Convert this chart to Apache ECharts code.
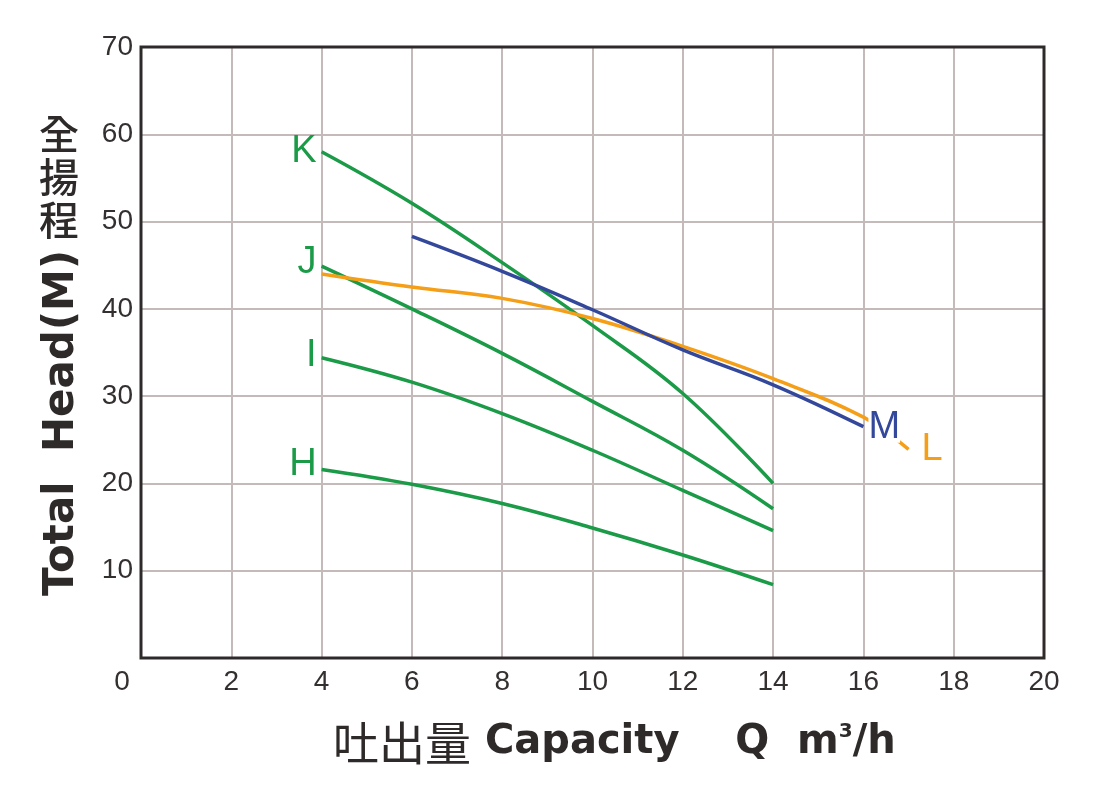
<!DOCTYPE html>
<html>
<head>
<meta charset="utf-8">
<script src="https://cdn.jsdelivr.net/npm/echarts@6/dist/echarts.min.js"></script>
<style>
  html, body { margin: 0; padding: 0; background: #fff; }
  #chart { width: 1110px; height: 789px; }
</style>
</head>
<body>
<div id="chart"></div>
<script>
// flow Q (m3/h) against head (m)
const xTicks = [0, 2, 4, 6, 8, 10, 12, 14, 16, 18, 20]
const yTicks = [0, 10, 20, 30, 40, 50, 60, 70]

const qH = [4, 6, 8, 10, 12, 14]
const headH = [21.6, 19.9, 17.7, 14.9, 11.8, 8.4]
const headI = [34.4, 31.6, 28.0, 23.8, 19.2, 14.6]
const headJ = [44.9, 40.0, 34.9, 29.4, 23.8, 17.1]
const headK = [58.0, 52.1, 45.3, 38.1, 30.3, 20.0]

const qM = [6, 8, 10, 12, 14, 16]
const headM = [48.3, 44.3, 39.9, 35.3, 31.3, 26.5]

const qL = [4, 6, 8, 10, 12, 14, 16, 17]
const headL = [44.0, 42.5, 41.2, 38.9, 35.7, 32.0, 27.6, 23.9]

const GREEN = '#1b9a47'
const BLUE = '#33489b'
const ORANGE = '#f59e17'
const INK = '#2e2a2a'
const NARROW = '"Liberation Sans Narrow", "Arial Narrow", "Liberation Sans", sans-serif'

const curve = (name, xs, ys, color, labelAt, position, offset, z) => ({
  type: 'line',
  name,
  smooth: 0.4,
  symbol: 'circle',
  symbolSize: 0,
  showSymbol: true,
  silent: true,
  lineStyle: { width: 3.5, color },
  itemStyle: { color },
  emphasis: { disabled: true },
  z,
  data: xs.map((x, i) =>
    i === labelAt
      ? {
          value: [x, ys[i]],
          label: {
            show: true,
            position,
            distance: 5,
            offset,
            formatter: name,
            color,
            fontSize: 38,
            fontFamily: NARROW,
            backgroundColor: '#fff',
            padding: [0, 0, 0, 0],
            lineHeight: 30,
          },
        }
      : [x, ys[i]],
  ),
})

const chart = echarts.init(document.getElementById('chart'))

chart.setOption({
  animation: false,
  backgroundColor: '#fff',
  grid: {
    left: 141,
    top: 47,
    width: 903,
    height: 611,
    show: true,
    borderColor: INK,
    borderWidth: 3,
    z: 4,
  },
  xAxis: {
    type: 'value',
    min: 0,
    max: 20,
    interval: 2,
    axisLine: { show: false },
    axisTick: { show: false },
    splitLine: { show: true, lineStyle: { color: '#c4baba', width: 2 } },
    axisLabel: {
      margin: 10,
      fontSize: 28,
      color: '#353030',
      fontFamily: 'Liberation Sans, Arial, sans-serif',
      formatter: (v) => (v === 0 ? '{z|0}' : String(v)),
      rich: { z: { fontSize: 28, color: '#353030', padding: [0, 38, 0, 0] } },
    },
  },
  yAxis: {
    type: 'value',
    min: 0,
    max: 70,
    interval: 10,
    axisLine: { show: false },
    axisTick: { show: false },
    splitLine: { show: true, lineStyle: { color: '#c4baba', width: 2 } },
    axisLabel: {
      margin: 8,
      fontSize: 28,
      color: '#353030',
      fontFamily: 'Liberation Sans, Arial, sans-serif',
      formatter: (v) => (v === 0 ? '' : String(v)),
    },
  },
  graphic: [
    {
      type: 'text',
      x: 62,
      y: 423,
      rotation: Math.PI / 2,
      style: {
        text: 'Total  Head(M)',
        font: 'bold 42px "DejaVu Sans", sans-serif',
        fill: INK,
        align: 'center',
        verticalAlign: 'middle',
      },
    },
    {
      type: 'text',
      x: 59,
      y: 177,
      style: {
        text: '全\n揚\n程',
        font: '500 40px "Noto Sans CJK TC", sans-serif',
        lineHeight: 43,
        fill: INK,
        align: 'center',
        verticalAlign: 'middle',
      },
    },
    {
      type: 'text',
      x: 333,
      y: 743,
      style: {
        text: '{c|吐出量}{e| Capacity    Q  m}{s|3}{e|/h}',
        align: 'left',
        verticalAlign: 'middle',
        rich: {
          c: { font: '46px "Noto Sans CJK TC", sans-serif', fill: INK },
          e: { font: 'bold 40px "DejaVu Sans", sans-serif', fill: INK },
          s: { font: 'bold 20px "DejaVu Sans", sans-serif', fill: INK, padding: [0, 0, 22, 0] },
        },
      },
    },
  ],
  series: [
    curve('H', qH, headH, GREEN, 0, 'left', [0, -5], 3),
    curve('I', qH, headI, GREEN, 0, 'left', [0, -2], 3),
    curve('J', qH, headJ, GREEN, 0, 'left', [0, -4], 3),
    curve('K', qH, headK, GREEN, 0, 'left', [0, 0], 3),
    curve('L', qL, headL, ORANGE, qL.length - 1, 'right', [8, 0], 3),
    curve('M', qM, headM, BLUE, qM.length - 1, 'right', [0, 1], 5),
  ],
})
</script>
</body>
</html>
